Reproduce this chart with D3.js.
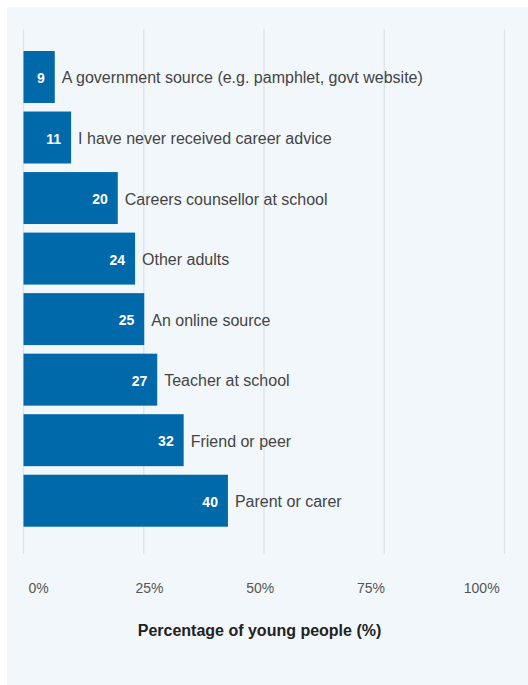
<!DOCTYPE html>
<html>
<head>
<meta charset="utf-8">
<script src="https://cdn.jsdelivr.net/npm/d3@7"></script>
<style>
  html, body { margin: 0; padding: 0; background: #ffffff; }
  svg { display: block; }
  text { font-family: "Liberation Sans", Arial, Helvetica, sans-serif; }
</style>
</head>
<body>
<svg id="chart" width="528" height="685"></svg>
<script>
// Categories (top to bottom)
const categories = [
  "A government source (e.g. pamphlet, govt website)",
  "I have never received career advice",
  "Careers counsellor at school",
  "Other adults",
  "An online source",
  "Teacher at school",
  "Friend or peer",
  "Parent or carer"
];
// Value labels shown on bars
const valueLabels = [9, 11, 20, 24, 25, 27, 32, 40];
// Bar lengths as read against the gridline scale (percent)
const barLengths = [6.5, 9.9, 19.6, 23.2, 25.1, 27.8, 33.3, 42.5];
// Axis ticks
const tickValues = [0, 25, 50, 75, 100];
const tickLabels = ["0%", "25%", "50%", "75%", "100%"];
const axisTitle = "Percentage of young people (%)";

const svg = d3.select("#chart");

// Panel background
svg.append("rect")
  .attr("x", 7).attr("y", 7)
  .attr("width", 521).attr("height", 678)
  .attr("fill", "#f2f7fb");

const x = d3.scaleLinear().domain([0, 100]).range([23.5, 504.5]);
const y = d3.scaleBand().domain(categories).range([51, 526.7]).paddingInner(0.1415).paddingOuter(0);
const tickPos = d3.scalePoint().domain(tickLabels).range([38.7, 481.7]);

// Gridlines
svg.append("g").selectAll("line")
  .data(tickValues)
  .join("line")
  .attr("x1", d => x(d)).attr("x2", d => x(d))
  .attr("y1", 29).attr("y2", 554)
  .attr("stroke", "#dde3ea")
  .attr("stroke-width", 1.3);

// Bars
const rows = categories.map((c, i) => ({ c, v: barLengths[i], label: valueLabels[i] }));

svg.append("g").selectAll("rect")
  .data(rows)
  .join("rect")
  .attr("x", x(0))
  .attr("y", d => y(d.c))
  .attr("width", d => x(d.v) - x(0))
  .attr("height", y.bandwidth())
  .attr("fill", "#0069aa");

// Value labels
svg.append("g").selectAll("text")
  .data(rows)
  .join("text")
  .attr("x", d => x(d.v) - 10)
  .attr("y", d => y(d.c) + y.bandwidth() / 2 + 1)
  .attr("text-anchor", "end")
  .attr("dominant-baseline", "central")
  .attr("fill", "#ffffff")
  .attr("font-weight", "bold")
  .attr("font-size", 14)
  .text(d => d.label);

// Category labels
svg.append("g").selectAll("text")
  .data(rows)
  .join("text")
  .attr("x", d => x(d.v) + 7)
  .attr("y", d => y(d.c) + y.bandwidth() / 2 + 1)
  .attr("dominant-baseline", "central")
  .attr("fill", "#444444")
  .attr("font-size", 16)
  .text(d => d.c);

// Tick labels
svg.append("g").selectAll("text")
  .data(tickLabels)
  .join("text")
  .attr("x", d => tickPos(d))
  .attr("y", 587.5)
  .attr("text-anchor", "middle")
  .attr("dominant-baseline", "central")
  .attr("fill", "#555555")
  .attr("font-size", 14)
  .text(d => d);

// Axis title
svg.append("text")
  .attr("x", 259.5)
  .attr("y", 630.5)
  .attr("text-anchor", "middle")
  .attr("dominant-baseline", "central")
  .attr("fill", "#222222")
  .attr("font-weight", "bold")
  .attr("font-size", 16)
  .text(axisTitle);
</script>
</body>
</html>
